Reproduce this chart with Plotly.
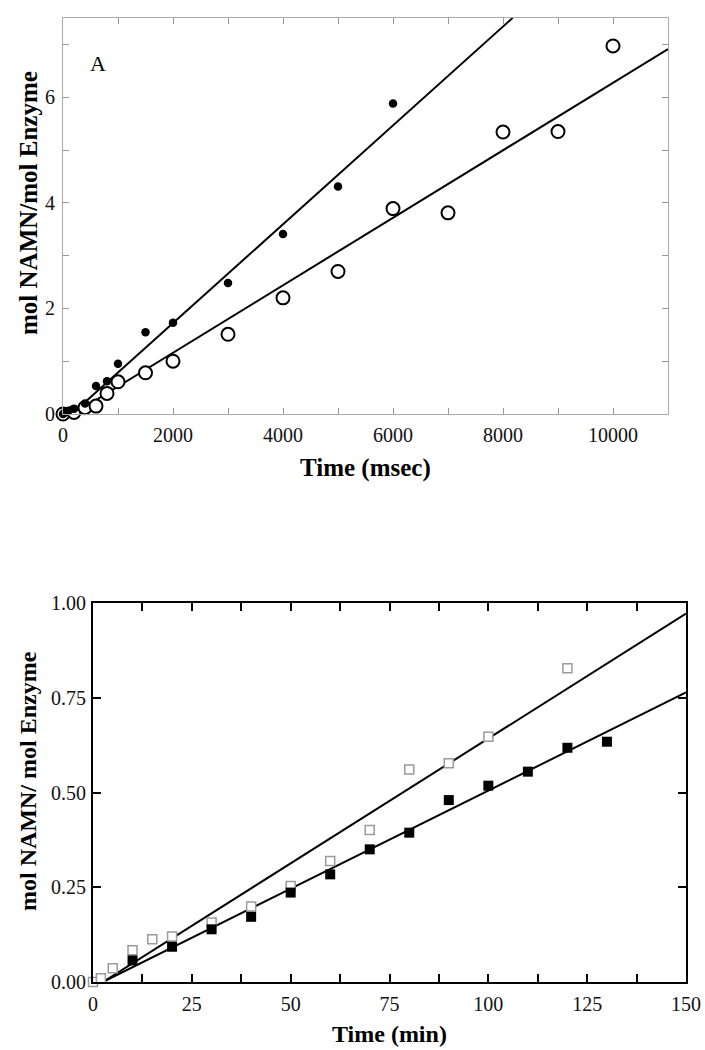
import plotly.graph_objects as go

# ---------------- Panel A data (time in msec) ----------------
a_filled_t = [0, 25, 50, 100, 200, 400, 600, 800, 1000, 1500, 2000, 3000, 4000, 5000, 6000]
a_filled_y = [0.0, 0.02, 0.04, 0.06, 0.10, 0.20, 0.53, 0.62, 0.95, 1.55, 1.73, 2.48, 3.41, 4.31, 5.88]
a_open_t = [0, 200, 400, 600, 800, 1000, 1500, 2000, 3000, 4000, 5000, 6000, 7000, 8000, 9000, 10000]
a_open_y = [0.0, 0.03, 0.12, 0.15, 0.39, 0.61, 0.78, 1.00, 1.51, 2.20, 2.70, 3.89, 3.81, 5.34, 5.35, 6.97]
a_fit_filled = (0.000936, -0.15)
a_fit_open = (0.000639, -0.118)
a_fit_start = 170
a_fit_filled_end = 8176
a_fit_open_end = 11000
a_xticks = list(range(0, 11001, 1000))
a_yticks = list(range(0, 8))

# ---------------- Panel B data (time in min) ----------------
b_open_t = [0, 2, 5, 10, 15, 20, 30, 40, 50, 60, 70, 80, 90, 100, 120]
b_open_y = [0.0, 0.01, 0.036, 0.084, 0.113, 0.12, 0.157, 0.199, 0.253, 0.319, 0.401, 0.561, 0.577, 0.647, 0.828]
b_filled_t = [10, 20, 30, 40, 50, 60, 70, 80, 90, 100, 110, 120, 130]
b_filled_y = [0.057, 0.093, 0.139, 0.172, 0.236, 0.284, 0.350, 0.394, 0.480, 0.518, 0.555, 0.618, 0.634]
b_fit_open = (0.00659, -0.0165)
b_fit_filled = (0.00518, -0.013)
b_fit_start = 2.5
b_fit_end = 150
b_xticks = [i * 12.5 for i in range(13)]
b_yticks = [0, 0.25, 0.5, 0.75, 1.0]

SERIF = "Liberation Serif, Times New Roman, serif"

def line_pts(fit, x0, x1):
    m, c = fit
    return [x0, x1], [m * x0 + c, m * x1 + c]

fig = go.Figure()

# Panel A
lx, ly = line_pts(a_fit_filled, a_fit_start, a_fit_filled_end)
fig.add_trace(go.Scatter(x=lx, y=ly, mode="lines", line=dict(color="black", width=2),
                         xaxis="x", yaxis="y", showlegend=False))
lx, ly = line_pts(a_fit_open, a_fit_start, a_fit_open_end)
fig.add_trace(go.Scatter(x=lx, y=ly, mode="lines", line=dict(color="black", width=2),
                         xaxis="x", yaxis="y", showlegend=False))
fig.add_trace(go.Scatter(x=a_open_t, y=a_open_y, mode="markers",
                         marker=dict(symbol="circle", size=13, color="white",
                                     line=dict(color="black", width=2)),
                         xaxis="x", yaxis="y", showlegend=False, cliponaxis=False))
fig.add_trace(go.Scatter(x=a_filled_t, y=a_filled_y, mode="markers",
                         marker=dict(symbol="circle", size=8.5, color="black"),
                         xaxis="x", yaxis="y", showlegend=False, cliponaxis=False))

# Panel B
lx, ly = line_pts(b_fit_open, b_fit_start, b_fit_end)
fig.add_trace(go.Scatter(x=lx, y=ly, mode="lines", line=dict(color="black", width=2),
                         xaxis="x2", yaxis="y2", showlegend=False))
lx, ly = line_pts(b_fit_filled, b_fit_start, b_fit_end)
fig.add_trace(go.Scatter(x=lx, y=ly, mode="lines", line=dict(color="black", width=2),
                         xaxis="x2", yaxis="y2", showlegend=False))
fig.add_trace(go.Scatter(x=b_open_t, y=b_open_y, mode="markers",
                         marker=dict(symbol="square", size=9, color="white",
                                     line=dict(color="#9a9a9a", width=1.5)),
                         xaxis="x2", yaxis="y2", showlegend=False, cliponaxis=False))
fig.add_trace(go.Scatter(x=b_filled_t, y=b_filled_y, mode="markers",
                         marker=dict(symbol="square", size=10, color="black"),
                         xaxis="x2", yaxis="y2", showlegend=False, cliponaxis=False))

W, H = 705, 1050
def px_x(p):
    return p / W
def px_y(p):
    return 1 - p / H

tickfont = dict(family=SERIF, size=20, color="#111")

common = dict(showgrid=False, zeroline=False, tickfont=tickfont, automargin=False,
              tickmode="array", mirror="ticks", showline=True, ticks="inside")

fig.update_layout(
    width=W, height=H,
    margin=dict(l=0, r=0, t=0, b=0, autoexpand=False),
    paper_bgcolor="white", plot_bgcolor="white",
    font=dict(family=SERIF, color="black"),
    xaxis=dict(domain=[px_x(63), px_x(668)], range=[0, 11000],
               tickvals=a_xticks,
               ticktext=[str(v) if v % 2000 == 0 else "" for v in a_xticks],
               ticklen=6, tickwidth=1, tickcolor="#999",
               linecolor="#aaa", linewidth=1,
               anchor="y", ticklabelstandoff=3, **common),
    yaxis=dict(domain=[px_y(414), px_y(18)], range=[0, 7.5],
               tickvals=a_yticks,
               ticktext=[str(v) if v % 2 == 0 else "" for v in a_yticks],
               ticklen=6, tickwidth=1, tickcolor="#999",
               linecolor="#aaa", linewidth=1,
               anchor="x", ticklabelstandoff=3, **common),
    xaxis2=dict(domain=[px_x(93), px_x(686)], range=[0, 150],
                tickvals=b_xticks,
                ticktext=[("%g" % v) if v % 25 == 0 else "" for v in b_xticks],
                ticklen=8, tickwidth=1.5, tickcolor="black",
                linecolor="black", linewidth=2,
                anchor="y2", ticklabelstandoff=3, **common),
    yaxis2=dict(domain=[px_y(982), px_y(603)], range=[0, 1.0],
                tickvals=b_yticks,
                ticktext=["%.2f" % v for v in b_yticks],
                ticklen=8, tickwidth=1.5, tickcolor="black",
                linecolor="black", linewidth=2,
                anchor="x2", ticklabelstandoff=1, **common),
)

titlefont = dict(family=SERIF, size=25, color="black")
ann = [
    dict(text="A", x=px_x(98), y=px_y(63), font=dict(family=SERIF, size=22, color="black")),
    dict(text="<b>Time (msec)</b>", x=px_x(365.5), y=px_y(468), font=titlefont),
    dict(text="<b>mol NAMN/mol Enzyme</b>", x=px_x(28), y=px_y(203), textangle=-90, font=titlefont),
    dict(text="<b>Time (min)</b>", x=px_x(389), y=px_y(1034), font=dict(family=SERIF, size=24, color="black")),
    dict(text="<b>mol NAMN/ mol Enzyme</b>", x=px_x(28), y=px_y(781), textangle=-90,
         font=dict(family=SERIF, size=24, color="black")),
]
for a in ann:
    a.update(xref="paper", yref="paper", showarrow=False, xanchor="center", yanchor="middle")
fig.update_layout(annotations=ann)

fig.write_html("out.html", config={"displayModeBar": False},
               post_script="document.body.style.margin='0px';document.body.style.overflow='hidden';")
